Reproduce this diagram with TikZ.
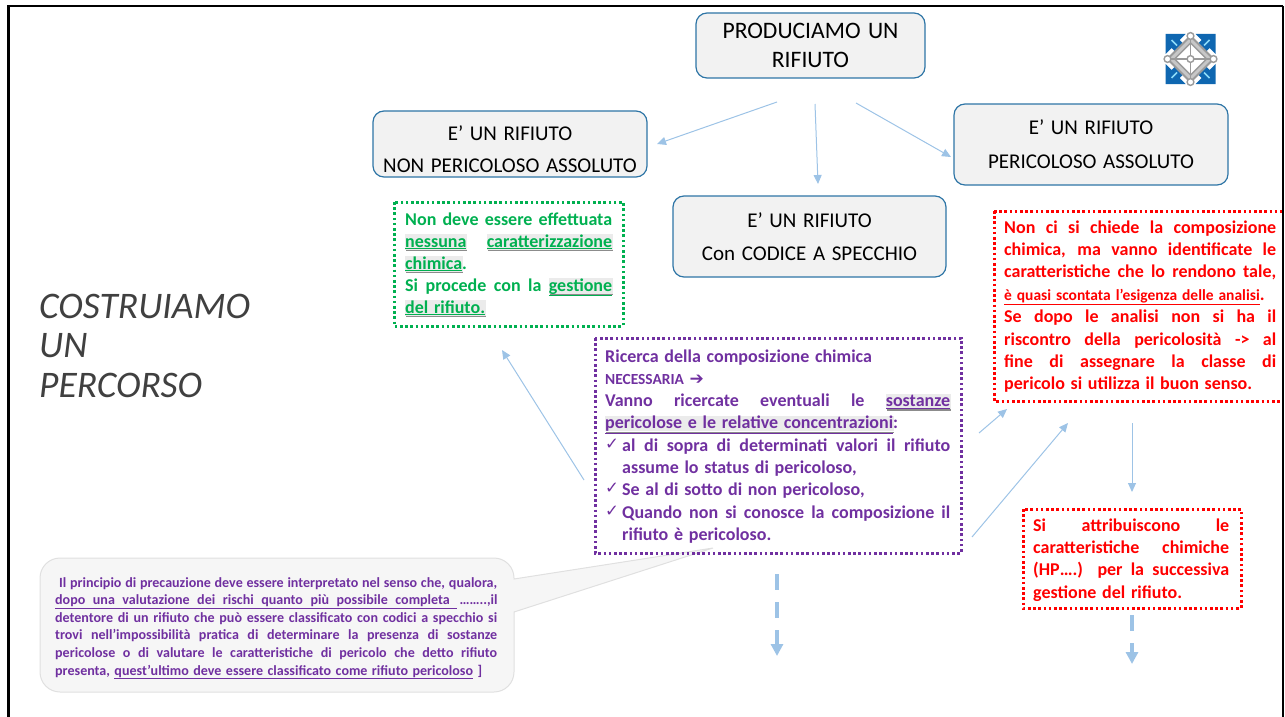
\documentclass[tikz,border=0pt]{standalone}
\usepackage{fontspec}
\setmainfont{Carlito}[WordSpace=1.4]
\newfontfamily\dejavu{DejaVu Sans}
\usetikzlibrary{arrows.meta}
\definecolor{boxblue}{HTML}{2E75A6}
\definecolor{boxfill}{HTML}{F2F2F2}
\definecolor{arrowblue}{HTML}{9DC3E6}
\definecolor{pur}{HTML}{7030A0}
\definecolor{grn}{HTML}{00B050}
\definecolor{logoblue}{HTML}{0F67B1}
\definecolor{logogray}{HTML}{9A9A9A}
\newcommand{\J}[2]{\makebox[#1][s]{#2}}
\newsavebox{\shbox}
\newcommand{\Sh}[1]{\sbox{\shbox}{#1}\rlap{\textcolor{black!8}{\rule[-2.5pt]{\dimexpr\wd\shbox+1pt\relax}{15.5pt}}}\rlap{\kern1pt\textcolor{black!45}{\rule[-4.2pt]{\wd\shbox}{1.5pt}}}\underline{#1}}
\newcommand{\Chk}{\makebox[17pt][l]{\raisebox{2pt}{\dejavu\fontsize{16.5}{16.5}\selectfont ✓}}}
\tikzset{
  x=1pt,y=-1pt,
  headbox/.style={draw=boxblue,line width=1.2pt,fill=boxfill,rounded corners=11pt,inner sep=0pt,align=center,font=\fontsize{21}{21}\selectfont},
  dotbox/.style={line width=3pt,dash pattern=on 2.6pt off 2.6pt},
  txt/.style={inner sep=0pt,anchor=base west},
  flow/.style={draw=arrowblue,line width=1pt,-{Triangle[length=9pt,width=8pt]}},
  bigflow/.style={draw=arrowblue,line width=4.5pt,dash pattern=on 16pt off 12pt,-{Triangle[length=12pt,width=12pt,fill=arrowblue]}},
}
\begin{document}
\begin{tikzpicture}
\useasboundingbox (0,0) rectangle (1285,717);
% slide frame
\coordinate (fbl) at (8.5,717);
\coordinate (ftl) at (8.5,6);
\coordinate (ftr) at (1283,6);
\coordinate (fbr) at (1283,717);
\draw[line width=3pt] (fbl) -- (ftl);
\draw[line width=2.2pt] (7,6) -- (ftr);
\draw[line width=1.2pt] (ftr) -- (fbr);

% logo
\begin{scope}[shift={(1190.5,59)}]
  \foreach \sx/\sy in {1/1,1/-1,-1/1,-1/-1}{
    \begin{scope}[xscale=\sx,yscale=\sy]
      \fill[logoblue] (25,25) -- (25,5) -- (19,11) -- (11,3) -- (3,11) -- (11,19) -- (5,25) -- cycle;
      \draw[cyan!45,line width=1.6pt] (19,19) -- (13.5,13.5);
    \end{scope}
  }
  \draw[logogray,line width=2pt,fill=black!22] (0,-23) -- (23,0) -- (0,23) -- (-23,0) -- cycle;
  \draw[logogray,line width=1.4pt,fill=white] (0,-16) -- (16,0) -- (0,16) -- (-16,0) -- cycle;
  \draw[logogray,line width=1.6pt] (0,-23) -- (0,23) (-23,0) -- (23,0);
  \foreach \px/\py in {0/-23,23/0,0/23,-23/0,0/0}{
    \draw[logogray,line width=1.4pt,fill=white] (\px,\py) circle (3.4);
  }
\end{scope}

% callout bubble
\path[draw=black!12,line width=1pt,fill=black!3.5]
  (60,558) -- (494,558) arc[start angle=-90,end angle=0,radius=20]
  -- (514,579) -- (713,548) -- (514,612) -- (514,672)
  arc[start angle=0,end angle=90,radius=20] -- (60,692)
  arc[start angle=90,end angle=180,radius=20] -- (40,578)
  arc[start angle=180,end angle=270,radius=20] -- cycle;

% head boxes
\node[headbox,minimum width=229pt,minimum height=65pt,font=\fontsize{23.6}{23.6}\selectfont] (prod) at (810.5,45.5) {PRODUCIAMO UN\\[5pt]RIFIUTO};
\node[headbox,minimum width=274pt,minimum height=66pt] (nonper) at (510,144) {\rule{0pt}{25pt}E’ UN RIFIUTO\\[11pt]NON PERICOLOSO ASSOLUTO};
\node[headbox,minimum width=274pt,minimum height=81pt] (per) at (1091,144.5) {E’ UN RIFIUTO\\[13pt]PERICOLOSO ASSOLUTO};
\node[headbox,minimum width=273pt,minimum height=81pt] (spec) at (809.5,236.5) {E’ UN RIFIUTO\\[12pt]Con CODICE A SPECCHIO};

% title
\node[txt,text=black!75] (title) at (39,318) {\parbox[t]{260pt}{\fontsize{37.5}{39.5}\selectfont\itshape COSTRUIAMO\\UN\\PERCORSO}};

% dotted boxes
\draw[dotbox,grn] (394,202) rectangle (623,326);
\draw[dotbox,pur] (595,338) rectangle (961,553);
\draw[dotbox,red] (994,211) -- (1282,211);
\draw[dotbox,red] (994,211) -- (994,401) -- (1282,401);
\draw[dotbox,red] (1023,509) rectangle (1241,608);

% green text
\node[txt,text=grn] (gtext) at (405,225) {\parbox[t]{208pt}{\fontsize{18}{22}\selectfont\bfseries
\J{207pt}{Non deve essere effettuata}\\
\J{207pt}{\Sh{nessuna}\ \Sh{caratterizzazione}}\\
\Sh{chimica}.\\
\J{207pt}{Si procede con la \Sh{gestione}}\\
\Sh{del rifiuto.}}};

% purple text
\node[txt,text=pur] (ptext) at (605,362) {\parbox[t]{346pt}{\fontsize{18}{22.3}\selectfont\bfseries
Ricerca della composizione chimica\\
{\fontsize{15.4}{22.3}\selectfont NECESSARIA} {\dejavu\fontsize{17}{22.3}\selectfont ➔}\\
\J{345pt}{Vanno ricercate eventuali le \Sh{sostanze}}\\
\Sh{pericolose e le relative concentrazioni}:\\
\Chk\J{328pt}{al di sopra di determinati valori il rifiuto}\\
\hspace*{17pt}assume lo status di pericoloso,\\
\Chk Se al di sotto di non pericoloso,\\
\Chk\J{328pt}{Quando non si conosce la composizione il}\\
\hspace*{17pt}rifiuto è pericoloso.}};

% red text
\node[txt,text=red] (rtext) at (1004,233) {\parbox[t]{273pt}{\fontsize{18}{22.4}\selectfont\bfseries
\J{272pt}{Non ci si chiede la composizione}\\
\J{272pt}{chimica, ma vanno identificate le}\\
\J{272pt}{caratteristiche che lo rendono tale,}\\
{\fontsize{15.5}{22.4}\selectfont\underline{è quasi scontata l’esigenza delle analisi}}.\\
\J{272pt}{Se dopo le analisi non si ha il}\\
\J{272pt}{riscontro della pericolosità -> al}\\
\J{272pt}{fine di assegnare la classe di}\\
pericolo si utilizza il buon senso.}};
\node[txt,text=red] (rtext2) at (1033,531) {\parbox[t]{197pt}{\fontsize{18}{22.4}\selectfont\bfseries
\J{196pt}{Si attribuiscono le}\\
\J{196pt}{caratteristiche chimiche}\\
\J{196pt}{(HP….) per la successiva}\\
gestione del rifiuto.}};

% bubble text
\node[txt,text=pur] (btext) at (55,587) {\parbox[t]{443pt}{\fontsize{14.05}{17.6}\selectfont\bfseries
\hspace*{4pt}\J{438pt}{Il principio di precauzione deve essere interpretato nel senso che, qualora,}\\
\J{442pt}{\underline{\makebox[402pt][s]{dopo una valutazione dei rischi quanto più possibile completa }}\,……..,il}\\
\J{442pt}{detentore di un rifiuto che può essere classificato con codici a specchio si}\\
\J{442pt}{trovi nell’impossibilità pratica di determinare la presenza di sostanze}\\
\J{442pt}{pericolose o di valutare le caratteristiche di pericolo che detto rifiuto}\\
presenta, \underline{quest’ultimo deve essere classificato come rifiuto pericoloso} ]}};

% connectors
\coordinate (a1s) at (777,102); \coordinate (a1e) at (657,144);
\coordinate (a2s) at (815,104); \coordinate (a2e) at (818,184);
\coordinate (a3s) at (856,103); \coordinate (a3e) at (951,157);
\coordinate (a4s) at (584,480); \coordinate (a4e) at (502,350);
\coordinate (a5s) at (979,433); \coordinate (a5e) at (1007,409);
\coordinate (a6s) at (972,537); \coordinate (a6e) at (1068,423);
\coordinate (a7s) at (1132,423); \coordinate (a7e) at (1132,492);
\coordinate (b1s) at (777,574); \coordinate (b1e) at (777,656);
\coordinate (b2s) at (1132,615); \coordinate (b2e) at (1132,664);
\draw[flow] (a1s) -- (a1e);
\draw[flow] (a2s) -- (a2e);
\draw[flow] (a3s) -- (a3e);
\draw[flow] (a4s) -- (a4e);
\draw[flow] (a5s) -- (a5e);
\draw[flow] (a6s) -- (a6e);
\draw[flow] (a7s) -- (a7e);
\draw[bigflow] (b1s) -- (b1e);
\draw[bigflow] (b2s) -- (b2e);
\end{tikzpicture}
\end{document}
